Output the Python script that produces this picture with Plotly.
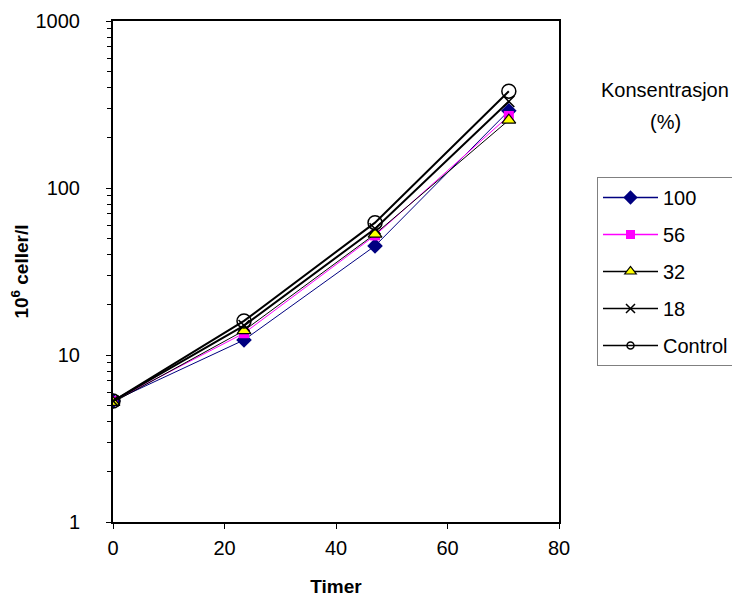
import plotly.graph_objects as go

hours = [0, 23.5, 47, 71]
series_names = ["100", "56", "32", "18", "Control"]
v100 = [5.3, 12.3, 45, 290]
v56 = [5.3, 13.5, 52, 270]
v32 = [5.2, 14, 53, 255]
v18 = [5.3, 15, 57, 330]
vctrl = [5.3, 16, 62, 380]
y_ticks = [1, 10, 100, 1000]
y_minor = [m * d for d in (1, 10, 100) for m in range(2, 10)]
x_ticks = [0, 20, 40, 60, 80]

line_styles = [
    dict(color="#000080", width=1),
    dict(color="#FF00FF", width=1),
    dict(color="black", width=1),
    dict(color="black", width=2),
    dict(color="black", width=2),
]
marker_styles = [
    dict(symbol="diamond", size=12, color="#000080"),
    dict(symbol="square", size=10, color="#FF00FF"),
    dict(symbol="triangle-up", size=12, color="#FFFF00", line=dict(color="black", width=1.2)),
    dict(symbol="x-thin", size=11, color="black", line=dict(color="black", width=1.5)),
    dict(symbol="circle-open", size=14, color="black", line=dict(width=1.5)),
]
legend_markers = [
    dict(symbol="diamond", size=11, color="#000080"),
    dict(symbol="square", size=9, color="#FF00FF"),
    dict(symbol="triangle-up", size=10, color="#FFFF00", line=dict(color="black", width=1.2)),
    dict(symbol="x-thin", size=9, color="black", line=dict(color="black", width=1.5)),
    dict(symbol="circle-open", size=7, color="black", line=dict(width=1.5)),
]
legend_lines = [
    dict(color="#000080", width=1.5),
    dict(color="#FF00FF", width=1.5),
    dict(color="black", width=1.5),
    dict(color="black", width=1.5),
    dict(color="black", width=1.5),
]

fig = go.Figure()
for name, vals, ln, mk in zip(series_names, [v100, v56, v32, v18, vctrl], line_styles, marker_styles):
    fig.add_trace(go.Scatter(x=hours, y=vals, name=name, mode="lines+markers",
                             line=ln, marker=mk, showlegend=False))
for name, ln, mk in zip(series_names, legend_lines, legend_markers):
    fig.add_trace(go.Scatter(x=[None], y=[None], name=name, mode="lines+markers",
                             line=ln, marker=mk, legendgroup=name, showlegend=True))

font = "Liberation Sans, Arial, sans-serif"
L, R, T, B = 105, 181, 13, 88
W, H = 732, 602
fig.update_layout(
    width=W, height=H,
    margin=dict(l=L, r=R, t=T, b=B),
    paper_bgcolor="white", plot_bgcolor="white",
    font=dict(family=font, size=20, color="black"),
    showlegend=True,
    legend=dict(xref="container", yref="container",
                x=(597 - 8) / W, y=1 - (177 - 8) / H,
                xanchor="left", yanchor="top",
                bordercolor="#808080", borderwidth=1,
                font=dict(size=20), tracegroupgap=8, itemwidth=55,
                traceorder="grouped"),
    xaxis=dict(range=[0, 80], tickvals=x_ticks, showgrid=False, zeroline=False,
               automargin=False,
               showline=True, linecolor="black", linewidth=2, mirror=True,
               ticks="outside", ticklen=5, tickcolor="black", ticklabelstandoff=2,
               title=dict(text="<b>Timer</b>", font=dict(size=19), standoff=22)),
    yaxis=dict(type="log", range=[0, 3], tickvals=y_ticks, ticktext=[str(v) for v in y_ticks],
               showgrid=False, zeroline=False, automargin=False,
               showline=True, linecolor="black", linewidth=2, mirror=True,
               ticks="outside", ticklen=5, tickcolor="black", ticklabelstandoff=22,
               minor=dict(tickvals=y_minor, ticks="outside", ticklen=4, tickcolor="black", showgrid=False),
               title=dict(text="<b>10<sup>6</sup> celler/l</b>", font=dict(size=19), standoff=14)),
)
pw, ph = W - L - R, H - T - B
for txt, px, py in [("Konsentrasjon", 665, 90), ("(%)", 665, 122)]:
    fig.add_annotation(text=txt, x=(px - 8 - L) / pw, y=(H - B - (py - 8)) / ph,
                       xref="paper", yref="paper", xanchor="center", yanchor="middle",
                       showarrow=False, font=dict(size=20))
fig.write_html("out.html")
